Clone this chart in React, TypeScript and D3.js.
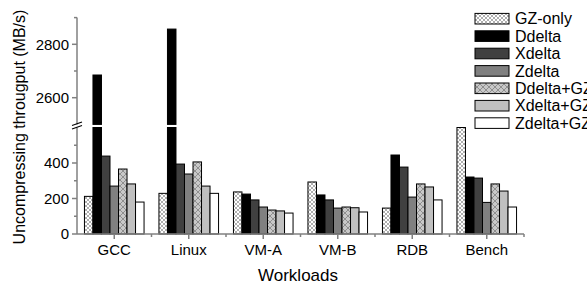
import { useEffect, useRef } from "react";
import * as d3 from "d3";

const workloads = ["GCC", "Linux", "VM-A", "VM-B", "RDB", "Bench"];
const seriesNames = ["GZ-only", "Ddelta", "Xdelta", "Zdelta", "Ddelta+GZ", "Xdelta+GZ", "Zdelta+GZ"];

// one array per series, same order as workloads
const gzOnly = [212, 229, 237, 293, 146, 600];
const ddelta = [2685, 2857, 225, 220, 445, 321];
const xdelta = [439, 394, 192, 192, 377, 315];
const zdelta = [270, 338, 152, 146, 208, 178];
const ddeltaGz = [366, 406, 135, 152, 282, 282];
const xdeltaGz = [282, 270, 130, 148, 265, 242];
const zdeltaGz = [180, 229, 118, 124, 192, 152];

const seriesValues = [gzOnly, ddelta, xdelta, zdelta, ddeltaGz, xdeltaGz, zdeltaGz];
const fills = ["url(#hatchLight)", "#000000", "#404040", "#808080", "url(#hatchGray)", "#c0c0c0", "#ffffff"];

const lowTicks = [0, 200, 400];
const lowMinor = [100, 300, 500];
const highTicks = [2600, 2800];
const highMinor = [2700, 2900];

const FONT = "'Liberation Sans', Arial, sans-serif";
const AXIS = "#808080";

export default function App() {
  const ref = useRef<SVGSVGElement>(null);

  useEffect(() => {
    const svg = d3.select(ref.current);
    svg.selectAll("*").remove();

    const x0 = 77, x1 = 524, yBase = 234;
    const yLow = d3.scaleLinear().domain([0, 600]).range([yBase, 127.5]);
    const yHigh = d3.scaleLinear().domain([2500, 2900]).range([124.4, 17.6]);

    const defs = svg.append("defs");
    const pLight = defs.append("pattern").attr("id", "hatchLight")
      .attr("patternUnits", "userSpaceOnUse").attr("width", 4).attr("height", 4);
    pLight.append("rect").attr("width", 4).attr("height", 4).attr("fill", "#fff");
    pLight.append("path").attr("d", "M0,0L4,4M4,0L0,4").attr("stroke", "#9a9a9a").attr("stroke-width", 0.8);
    const pGray = defs.append("pattern").attr("id", "hatchGray")
      .attr("patternUnits", "userSpaceOnUse").attr("width", 6).attr("height", 6);
    pGray.append("rect").attr("width", 6).attr("height", 6).attr("fill", "#c8c8c8");
    pGray.append("path").attr("d", "M0,0L6,6M6,0L0,6").attr("stroke", "#808080").attr("stroke-width", 0.8);

    const xBand = d3.scaleBand().domain(workloads).range([x0, x1]).paddingInner(0.2).paddingOuter(0.1);
    const xInner = d3.scaleBand().domain(seriesNames).range([0, xBand.bandwidth()]);

    const g = svg.append("g");
    workloads.forEach((w, wi) => {
      seriesNames.forEach((s, si) => {
        const v = seriesValues[si][wi];
        const bx = xBand(w)! + xInner(s)!;
        const bw = xInner.bandwidth();
        const top = yLow(Math.min(v, 600));
        g.append("rect").attr("x", bx).attr("y", top).attr("width", bw).attr("height", yBase - top)
          .attr("fill", fills[si]).attr("stroke", "#000").attr("stroke-width", 1);
        if (v > 600) {
          g.append("rect").attr("x", bx).attr("y", yHigh(v)).attr("width", bw)
            .attr("height", yHigh(2500) - yHigh(v))
            .attr("fill", fills[si]).attr("stroke", "#000").attr("stroke-width", 1);
        }
      });
    });

    // y axes (broken)
    const ax = svg.append("g").attr("stroke", AXIS).attr("stroke-width", 1.5);
    ax.append("line").attr("x1", x0).attr("x2", x0).attr("y1", yBase).attr("y2", yLow(600));
    ax.append("line").attr("x1", x0).attr("x2", x0).attr("y1", yHigh(2500)).attr("y2", yHigh(2900));
    lowTicks.forEach(t => ax.append("line").attr("x1", x0 - 5).attr("x2", x0).attr("y1", yLow(t)).attr("y2", yLow(t)));
    lowMinor.forEach(t => ax.append("line").attr("x1", x0 - 3).attr("x2", x0).attr("y1", yLow(t)).attr("y2", yLow(t)));
    highTicks.forEach(t => ax.append("line").attr("x1", x0 - 5).attr("x2", x0).attr("y1", yHigh(t)).attr("y2", yHigh(t)));
    highMinor.forEach(t => ax.append("line").attr("x1", x0 - 3).attr("x2", x0).attr("y1", yHigh(t)).attr("y2", yHigh(t)));

    // break marks
    const brk = svg.append("g").attr("stroke", "#000").attr("stroke-width", 1.2);
    brk.append("line").attr("x1", x0 - 5).attr("y1", 125.5).attr("x2", x0 + 5).attr("y2", 122);
    brk.append("line").attr("x1", x0 - 5).attr("y1", 129).attr("x2", x0 + 5).attr("y2", 125.5);

    // x axis
    ax.append("line").attr("x1", x0).attr("x2", x1).attr("y1", yBase).attr("y2", yBase);
    workloads.forEach(w => {
      const cx = xBand(w)! + xBand.bandwidth() / 2;
      ax.append("line").attr("x1", cx).attr("x2", cx).attr("y1", yBase).attr("y2", yBase + 5);
      const bx = cx + xBand.step() / 2;
      ax.append("line").attr("x1", bx).attr("x2", bx).attr("y1", yBase).attr("y2", yBase + 3);
    });

    const txt = svg.append("g").attr("font-family", FONT).attr("fill", "#000");
    lowTicks.forEach(t => txt.append("text").attr("x", x0 - 8).attr("y", yLow(t)).attr("dy", "0.35em")
      .attr("text-anchor", "end").attr("font-size", 15).text(t));
    highTicks.forEach(t => txt.append("text").attr("x", x0 - 8).attr("y", yHigh(t)).attr("dy", "0.35em")
      .attr("text-anchor", "end").attr("font-size", 15).text(t));
    workloads.forEach(w => txt.append("text").attr("x", xBand(w)! + xBand.bandwidth() / 2).attr("y", 255)
      .attr("text-anchor", "middle").attr("font-size", 15).text(w));
    txt.append("text").attr("x", 298).attr("y", 281).attr("text-anchor", "middle").attr("font-size", 17).text("Workloads");
    txt.append("text").attr("transform", "translate(25,127) rotate(-90)").attr("text-anchor", "middle")
      .attr("font-size", 16).text("Uncompressing througput (MB/s)");

    // legend
    const lg = svg.append("g").attr("font-family", FONT);
    seriesNames.forEach((s, i) => {
      const cy = 18.7 + i * 17.4;
      lg.append("rect").attr("x", 475).attr("y", cy - 5.3).attr("width", 34).attr("height", 10.6)
        .attr("fill", fills[i]).attr("stroke", "#000").attr("stroke-width", 1);
      lg.append("text").attr("x", 515).attr("y", cy).attr("dy", "0.36em").attr("font-size", 16).text(s);
    });
  }, []);

  return (
    <svg ref={ref} width={587} height={286} style={{ position: "absolute", left: 0, top: 0, background: "#fff" }} />
  );
}
